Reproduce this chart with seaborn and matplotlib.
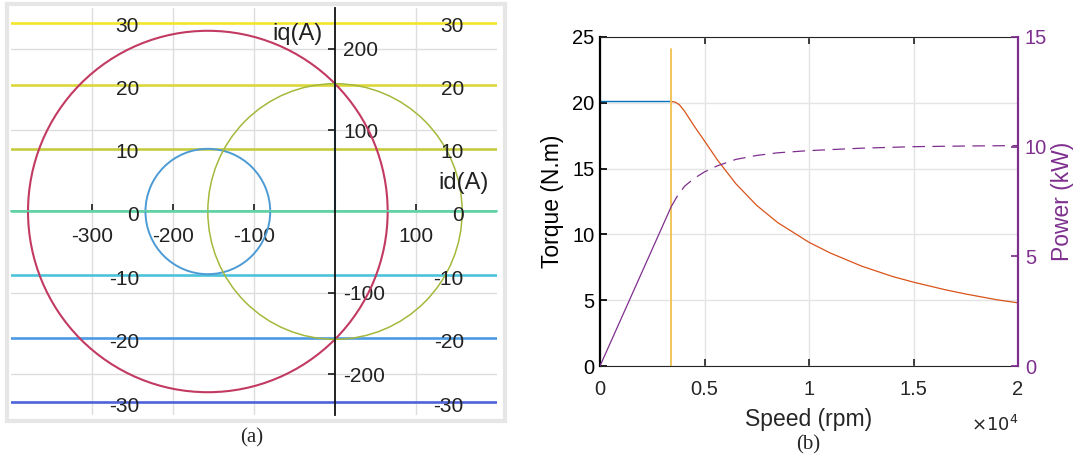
import numpy as np
import pandas as pd
import matplotlib.pyplot as plt
import seaborn as sns
from matplotlib.patches import Circle, Rectangle

# ---------------- data, panel (a): id-iq plane ----------------
torque_levels = [30, 20, 10, 0, -10, -20, -30]
level_iq = [232, 155, 77, 0, -78, -156, -234]
level_colors = ['#f3e62a', '#dcd83a', '#c4cc3e', '#63d2a4', '#4cc3da', '#4a9be4', '#4d62d8']

# circles: (center id, center iq, radius)
current_circle = (-157, 0, 222)
voltage_circle = (-157, 0, 77)
origin_circle = (0, 0, 157)

mtpa_id = [0, 0]
mtpa_iq = [0, 157]

# ---------------- data, panel (b): torque / power vs speed ----------------
speed_const = [0, 3410]
torque_const = [20.1, 20.1]

speed_weak = [3410, 3600, 3800, 4050, 4500, 5000, 5600, 6500, 7500, 8500,
              10000, 11000, 12500, 14000, 15000, 16500, 17500, 19000, 20000]
torque_weak = [20.1, 20.05, 19.85, 19.35, 18.25, 17.1, 15.7, 13.85, 12.2, 10.9,
               9.4, 8.6, 7.6, 6.8, 6.37, 5.8, 5.47, 5.03, 4.8]

speed_pow_lin = [0, 3410]
power_lin = [0, 7.27]

speed_pow_weak = [3410, 3700, 4050, 4500, 5000, 5600, 6500, 7500, 8500, 10000,
                  12500, 15000, 17500, 20000]
power_weak = [7.27, 7.75, 8.2, 8.55, 8.85, 9.12, 9.42, 9.6, 9.72, 9.82,
              9.93, 10.0, 10.03, 10.05]

base_speed = [3410, 3410]
base_marker = [0, 24.1]

sns.set_theme(style='white')
plt.rcParams['font.family'] = ['Liberation Sans', 'DejaVu Sans']
plt.rcParams['axes.unicode_minus'] = False

W, H = 1084, 465
fig = plt.figure(figsize=(W / 100, H / 100), dpi=100)

# ================= panel (a) =================
axa = fig.add_axes([11 / W, 1 - 415 / H, 486 / W, 407 / H])
axa.set_xlim(-400, 200)
axa.set_ylim(-250, 250)
axa.set_axisbelow(True)

for lvl, iq, col in zip(torque_levels, level_iq, level_colors):
    axa.axhline(iq, color=col, lw=1.9, zorder=1.5)
    axa.text(-242, iq - 5, str(lvl), ha='right', va='center', fontsize=15, color='#222222', zorder=4)
    axa.text(159, iq - 5, str(lvl), ha='right', va='center', fontsize=15, color='#222222', zorder=4)

for (cx, cy, r), col, lw in [(current_circle, '#c23a62', 1.5),
                             (voltage_circle, '#4d9bd5', 1.4),
                             (origin_circle, '#a5b83c', 1.1)]:
    axa.add_patch(Circle((cx, cy), r, fill=False, edgecolor=col, lw=lw, zorder=2))

sns.lineplot(x=mtpa_id, y=mtpa_iq, ax=axa, color='#5ab8e6', lw=1.5,
             sort=False, estimator=None, zorder=2)

axa.spines['top'].set_visible(False)
axa.spines['left'].set_visible(False)
axa.spines['right'].set_position(('data', 0))
axa.spines['right'].set_color('#111111')
axa.spines['right'].set_linewidth(1.3)
axa.spines['right'].set_zorder(3)
axa.spines['bottom'].set_position(('data', 0))
axa.spines['bottom'].set_color('#63d2a4')
axa.yaxis.tick_right()
axa.set_xticks([-300, -200, -100, 100])
axa.set_yticks([-200, -100, 100, 200])
axa.tick_params(axis='x', direction='in', length=5, pad=11, labelsize=15,
                color='#222222', labelcolor='#222222', bottom=True)
axa.tick_params(axis='y', direction='in', length=5, pad=6, labelsize=15,
                color='#222222', labelcolor='#222222', right=True)
axa.grid(True, color='#dddddd', lw=1)

axa.text(-15, 218, 'iq(A)', ha='right', va='center', fontsize=17, color='#222222')
axa.text(128, 35, 'id(A)', ha='left', va='center', fontsize=17, color='#222222')

fig.patches.append(Rectangle((7 / W, 1 - 421 / H), 498 / W, 417 / H, transform=fig.transFigure,
                             fill=False, edgecolor='#e6e6e6', lw=3))

# ================= panel (b) =================
purple = '#7e2f8e'
axb = fig.add_axes([600 / W, 1 - 366 / H, 418 / W, 329 / H])
axb.set_axisbelow(True)
sns.lineplot(x=speed_const, y=torque_const, ax=axb, color='#0072bd', lw=1.0, estimator=None)
sns.lineplot(x=speed_weak, y=torque_weak, ax=axb, color='#d95319', lw=0.9, estimator=None)
sns.lineplot(x=base_speed, y=base_marker, ax=axb, color='#f0c050', lw=1.3,
             sort=False, estimator=None)
axb.set_xlim(0, 20000)
axb.set_ylim(0, 25)
axb.set_xticks([0, 5000, 10000, 15000, 20000])
axb.set_xticklabels(['0', '0.5', '1', '1.5', '2'])
axb.set_yticks([0, 5, 10, 15, 20, 25])
axb.grid(True, color='#e4e4e4', lw=1)
axb.tick_params(axis='x', direction='in', length=5, pad=10, labelsize=14.5,
                top=True, bottom=True, color='#262626', labelcolor='#262626')
axb.tick_params(axis='y', direction='in', length=5, pad=4, labelsize=14.5,
                left=True, color='black', labelcolor='black')
for s in ['top', 'bottom']:
    axb.spines[s].set_color('#262626')
    axb.spines[s].set_linewidth(0.8)
axb.spines['left'].set_color('black')
axb.spines['left'].set_linewidth(1.6)
axb.spines['right'].set_visible(False)
axb.set_xlabel('Speed (rpm)', fontsize=16.5, color='#262626')
axb.xaxis.set_label_coords(0.5, -0.128)
axb.set_ylabel('Torque (N.m)', fontsize=16.5, color='black')
axb.yaxis.set_label_coords(-0.086, 0.5)
axb.text(1.0, -0.18, r'$\times 10^4$', transform=axb.transAxes, ha='right', va='center',
         fontsize=13, color='#262626')

axp = axb.twinx()
sns.lineplot(x=speed_pow_lin, y=power_lin, ax=axp, color=purple, lw=0.9, estimator=None)
sns.lineplot(x=speed_pow_weak, y=power_weak, ax=axp, color=purple, lw=0.9, estimator=None)
axp.get_lines()[-1].set_dashes((10, 6))
axp.set_ylim(0, 15)
axp.set_yticks([0, 5, 10, 15])
axp.grid(False)
for s in ['top', 'bottom', 'left']:
    axp.spines[s].set_visible(False)
axp.spines['right'].set_color(purple)
axp.spines['right'].set_linewidth(1.6)
axp.tick_params(axis='y', direction='in', length=5, pad=5, labelsize=14.5,
                right=True, color=purple, labelcolor=purple)
axp.set_ylabel('Power (kW)', fontsize=16.5, color=purple)
axp.yaxis.set_label_coords(1.079, 0.5)

fig.text(252 / W, 1 - 438 / H, '(a)', ha='center', va='center', fontsize=15,
         family=['Liberation Serif', 'DejaVu Serif'])
fig.text(808 / W, 1 - 445 / H, '(b)', ha='center', va='center', fontsize=15,
         family=['Liberation Serif', 'DejaVu Serif'])

fig.savefig('out.png', dpi=100)
